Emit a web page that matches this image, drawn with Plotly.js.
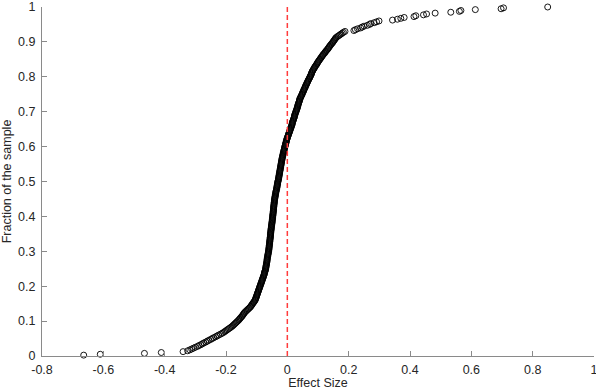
<!DOCTYPE html>
<html>
<head>
<meta charset="utf-8">
<script src="https://cdn.plot.ly/plotly-3.0.1.min.js"></script>
<style>
  html, body { margin: 0; padding: 0; background: #fff; }
  #chart { width: 596px; height: 390px; }
</style>
</head>
<body>
<div id="chart"></div>
<script>
// sorted effect sizes (lower tail, core, upper tail)
let effectLow = [
    -0.664, -0.610, -0.466, -0.411, -0.340, -0.325, -0.318, -0.312, -0.306, -0.300,
    -0.293, -0.288, -0.282, -0.277, -0.272, -0.266, -0.261, -0.256, -0.250, -0.245,
    -0.240, -0.234, -0.229, -0.224, -0.218, -0.213, -0.208, -0.204, -0.200, -0.196,
    -0.192, -0.188, -0.184, -0.180, -0.177, -0.174, -0.171, -0.168, -0.165, -0.162,
    -0.159, -0.157, -0.154, -0.152, -0.149, -0.147, -0.145, -0.143, -0.141, -0.139,
    -0.136, -0.133, -0.130, -0.127, -0.124, -0.121, -0.119, -0.117, -0.115, -0.113,
    -0.111, -0.109, -0.107, -0.105, -0.104, -0.103, -0.102, -0.101, -0.100, -0.099
];

let effectMid = [
    -0.098, -0.097, -0.096, -0.095, -0.094, -0.093, -0.092, -0.091, -0.090, -0.089,
    -0.088, -0.087, -0.086, -0.085, -0.084, -0.083, -0.082, -0.081, -0.080, -0.079,
    -0.078, -0.077, -0.076, -0.075, -0.075, -0.074, -0.073, -0.072, -0.071, -0.071,
    -0.070, -0.070, -0.069, -0.069, -0.068, -0.068, -0.067, -0.067, -0.066, -0.066,
    -0.066, -0.065, -0.065, -0.064, -0.064, -0.063, -0.063, -0.062, -0.062, -0.061,
    -0.061, -0.060, -0.060, -0.060, -0.059, -0.059, -0.059, -0.058, -0.058, -0.058,
    -0.057, -0.057, -0.057, -0.056, -0.056, -0.056, -0.055, -0.055, -0.055, -0.055,
    -0.054, -0.054, -0.054, -0.053, -0.053, -0.053, -0.052, -0.052, -0.052, -0.051,
    -0.051, -0.050, -0.050, -0.050, -0.049, -0.049, -0.049, -0.048, -0.048, -0.048,
    -0.047, -0.047, -0.047, -0.046, -0.046, -0.046, -0.045, -0.045, -0.045, -0.045,
    -0.044, -0.044, -0.044, -0.043, -0.043, -0.043, -0.042, -0.042, -0.042, -0.041,
    -0.041, -0.040, -0.040, -0.039, -0.039, -0.038, -0.038, -0.037, -0.037, -0.036,
    -0.035, -0.035, -0.034, -0.034, -0.033, -0.033, -0.032, -0.032, -0.031, -0.031,
    -0.030, -0.029, -0.029, -0.028, -0.028, -0.027, -0.027, -0.026, -0.026, -0.025,
    -0.025, -0.024, -0.024, -0.023, -0.023, -0.022, -0.022, -0.021, -0.021, -0.020,
    -0.020, -0.019, -0.019, -0.018, -0.018, -0.017, -0.017, -0.016, -0.015, -0.015,
    -0.014, -0.013, -0.013, -0.012, -0.011, -0.011, -0.010, -0.009, -0.009, -0.008,
    -0.007, -0.006, -0.006, -0.005, -0.004, -0.003, -0.003, -0.002, -0.001, 0.000,
    0.001, 0.002, 0.003, 0.004, 0.005, 0.006, 0.007, 0.008, 0.009, 0.010,
    0.011, 0.012, 0.013, 0.014, 0.015, 0.016, 0.016, 0.017, 0.018, 0.019,
    0.020, 0.021, 0.022, 0.023, 0.023, 0.024, 0.025, 0.026, 0.027, 0.028,
    0.029, 0.030, 0.031, 0.032, 0.033, 0.034, 0.034, 0.035, 0.036, 0.037,
    0.038, 0.039, 0.040, 0.040, 0.041, 0.043, 0.044, 0.045, 0.047, 0.048,
    0.049, 0.050, 0.052, 0.053, 0.054, 0.055, 0.057, 0.058, 0.059, 0.060,
    0.062, 0.063, 0.064, 0.066, 0.067, 0.068, 0.070, 0.071, 0.073, 0.074,
    0.075, 0.077, 0.078, 0.079, 0.080, 0.081, 0.083, 0.084, 0.086, 0.088,
    0.089, 0.091, 0.093, 0.095, 0.097, 0.098, 0.100, 0.102, 0.104, 0.106,
    0.108, 0.110, 0.112, 0.114, 0.116, 0.118, 0.121, 0.123, 0.125, 0.127,
    0.130, 0.132, 0.134, 0.136, 0.138, 0.140, 0.142, 0.145, 0.147, 0.149,
    0.151, 0.153, 0.155, 0.157, 0.159, 0.163, 0.167, 0.171, 0.175, 0.179,
    0.183, 0.188
];

let effectHigh = [
    0.217, 0.222, 0.229, 0.239, 0.244, 0.250, 0.261, 0.268,
    0.272, 0.283, 0.291, 0.299, 0.343, 0.359, 0.370, 0.381, 0.413, 0.419,
    0.444, 0.454, 0.482, 0.533, 0.561, 0.566, 0.613, 0.697, 0.705, 0.849
];

let xTickVals = [-0.8, -0.6, -0.4, -0.2, 0, 0.2, 0.4, 0.6, 0.8, 1];
let xTickText = ['-0.8', '-0.6', '-0.4', '-0.2', '0', '0.2', '0.4', '0.6', '0.8', '1'];
let yTickVals = [0, 0.1, 0.2, 0.3, 0.4, 0.5, 0.6, 0.7, 0.8, 0.9, 1];
let yTickText = ['0', '0.1', '0.2', '0.3', '0.4', '0.5', '0.6', '0.7', '0.8', '0.9', '1'];

let effects = effectLow.concat(effectMid, effectHigh);
let n = effects.length;
let fraction = effects.map((v, i) => (i + 1) / n); // empirical cdf

let axisGray = '#8a8a8a';
let textColor = '#262626';

let trace = {
    x: effects,
    y: fraction,
    type: 'scatter',
    mode: 'markers',
    hoverinfo: 'none',
    cliponaxis: false,
    marker: {
        symbol: 'circle-open',
        size: 6,
        color: '#000000',
        line: { width: 0.9, color: '#000000' }
    }
};

let layout = {
    width: 596,
    height: 390,
    margin: { l: 42, r: 2, t: 7, b: 34 },
    paper_bgcolor: '#ffffff',
    plot_bgcolor: '#ffffff',
    showlegend: false,
    font: { family: 'Liberation Sans, Arial, sans-serif', size: 12.5, color: textColor },
    xaxis: {
        range: [-0.8, 1],
        tickmode: 'array',
        tickvals: xTickVals,
        ticktext: xTickText,
        ticks: 'inside',
        ticklen: 5,
        tickcolor: axisGray,
        showline: true,
        linecolor: axisGray,
        linewidth: 1,
        showgrid: false,
        zeroline: false,
        automargin: false,
        ticklabeloverflow: 'allow',
        ticklabelstandoff: 2,
        title: { text: 'Effect Size', standoff: 5, font: { size: 12.5 } }
    },
    yaxis: {
        range: [0, 1],
        tickmode: 'array',
        tickvals: yTickVals,
        ticktext: yTickText,
        ticks: 'inside',
        ticklen: 5,
        tickcolor: axisGray,
        showline: true,
        linecolor: axisGray,
        linewidth: 1,
        showgrid: false,
        zeroline: false,
        automargin: false,
        ticklabeloverflow: 'allow',
        ticklabelstandoff: 3,
        title: { text: 'Fraction of the sample', standoff: 6, font: { size: 12.5 } }
    },
    shapes: [{
        type: 'line',
        xref: 'x', yref: 'y',
        x0: 0, x1: 0, y0: 0, y1: 1,
        line: { color: 'rgb(255,60,60)', width: 1.5, dash: '5px,3px' }
    }]
};

Plotly.newPlot('chart', [trace], layout, { staticPlot: true, displayModeBar: false });
</script>
</body>
</html>
